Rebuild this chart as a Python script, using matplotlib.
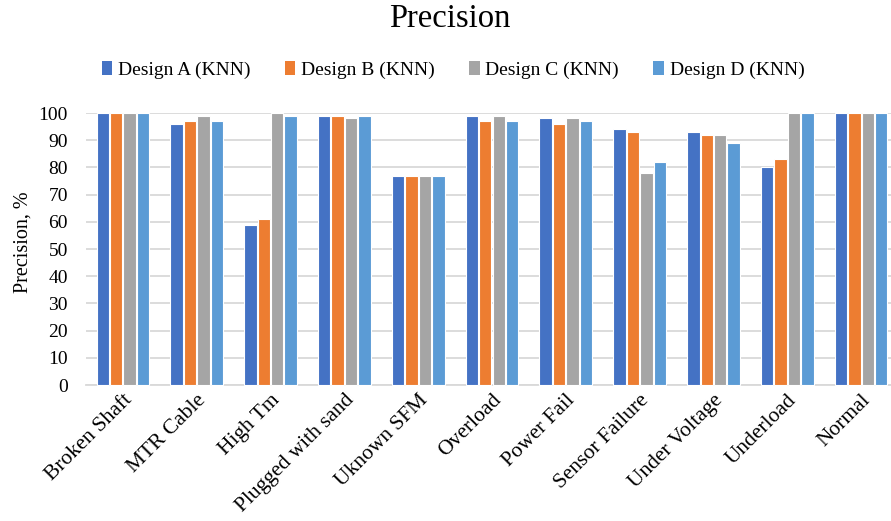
import matplotlib
matplotlib.use("Agg")
import matplotlib.pyplot as plt
import numpy as np
from matplotlib.patches import Patch

plt.rcParams['font.family'] = ['Liberation Serif', 'DejaVu Serif']

categories = ["Broken Shaft", "MTR Cable", "High Tm", "Plugged with sand", "Uknown SFM",
              "Overload", "Power Fail", "Sensor Failure", "Under Voltage", "Underload", "Normal"]
series_names = ["Design A (KNN)", "Design B (KNN)", "Design C (KNN)", "Design D (KNN)"]
design_a = [100, 96, 59, 99, 77, 99, 98, 94, 93, 80, 100]
design_b = [100, 97, 61, 99, 77, 97, 96, 93, 92, 83, 100]
design_c = [100, 99, 100, 98, 77, 99, 98, 78, 92, 100, 100]
design_d = [100, 97, 99, 99, 77, 97, 97, 82, 89, 100, 100]
y_ticks = [0, 10, 20, 30, 40, 50, 60, 70, 80, 90, 100]

colors = ["#4472C4", "#ED7D31", "#A5A5A5", "#5B9BD5"]
W, H = 891, 521
fig = plt.figure(figsize=(W / 100, H / 100), dpi=100)
ax = fig.add_axes([86 / W, 136 / H, 812 / W, 272 / H])

x = np.arange(len(categories))
step = 0.182
bw = 0.168
for i, (vals, c) in enumerate(zip([design_a, design_b, design_c, design_d], colors)):
    ax.bar(x + (i - 1.5) * step, vals, width=bw, color=c, edgecolor="white",
           linewidth=0.8, zorder=3, clip_on=False)

ax.set_xlim(-0.5, len(categories) - 0.5)
ax.set_ylim(0, 100)
ax.set_yticks(y_ticks)
ax.yaxis.grid(True, color="#d9d9d9", linewidth=1.3, zorder=0)
ax.tick_params(axis="y", length=0, labelsize=14, pad=13)
ax.tick_params(axis="x", length=0, labelsize=15.5, pad=4)
ax.set_xticks(x)
ax.set_xticklabels(categories, rotation=45, ha="right", rotation_mode="anchor")
for s in ["top", "right", "left"]:
    ax.spines[s].set_visible(False)
ax.spines["bottom"].set_color("#d9d9d9")
ax.spines["bottom"].set_linewidth(1.3)
ax.set_ylabel("Precision, %", fontsize=14.5)
ax.yaxis.set_label_coords(-0.066, 0.525)

fig.text(450 / W, 1 - 19 / H, "Precision", ha="center", va="center", fontsize=23.5)

handles = [Patch(facecolor=c, edgecolor="none") for c in colors]
fig.legend(handles, series_names, loc="center", bbox_to_anchor=(453 / W, 1 - 70 / H),
           ncol=4, frameon=False, fontsize=14, handlelength=0.55, handleheight=0.7,
           handletextpad=0.3, columnspacing=1.75)

fig.savefig("out.png", dpi=100)
